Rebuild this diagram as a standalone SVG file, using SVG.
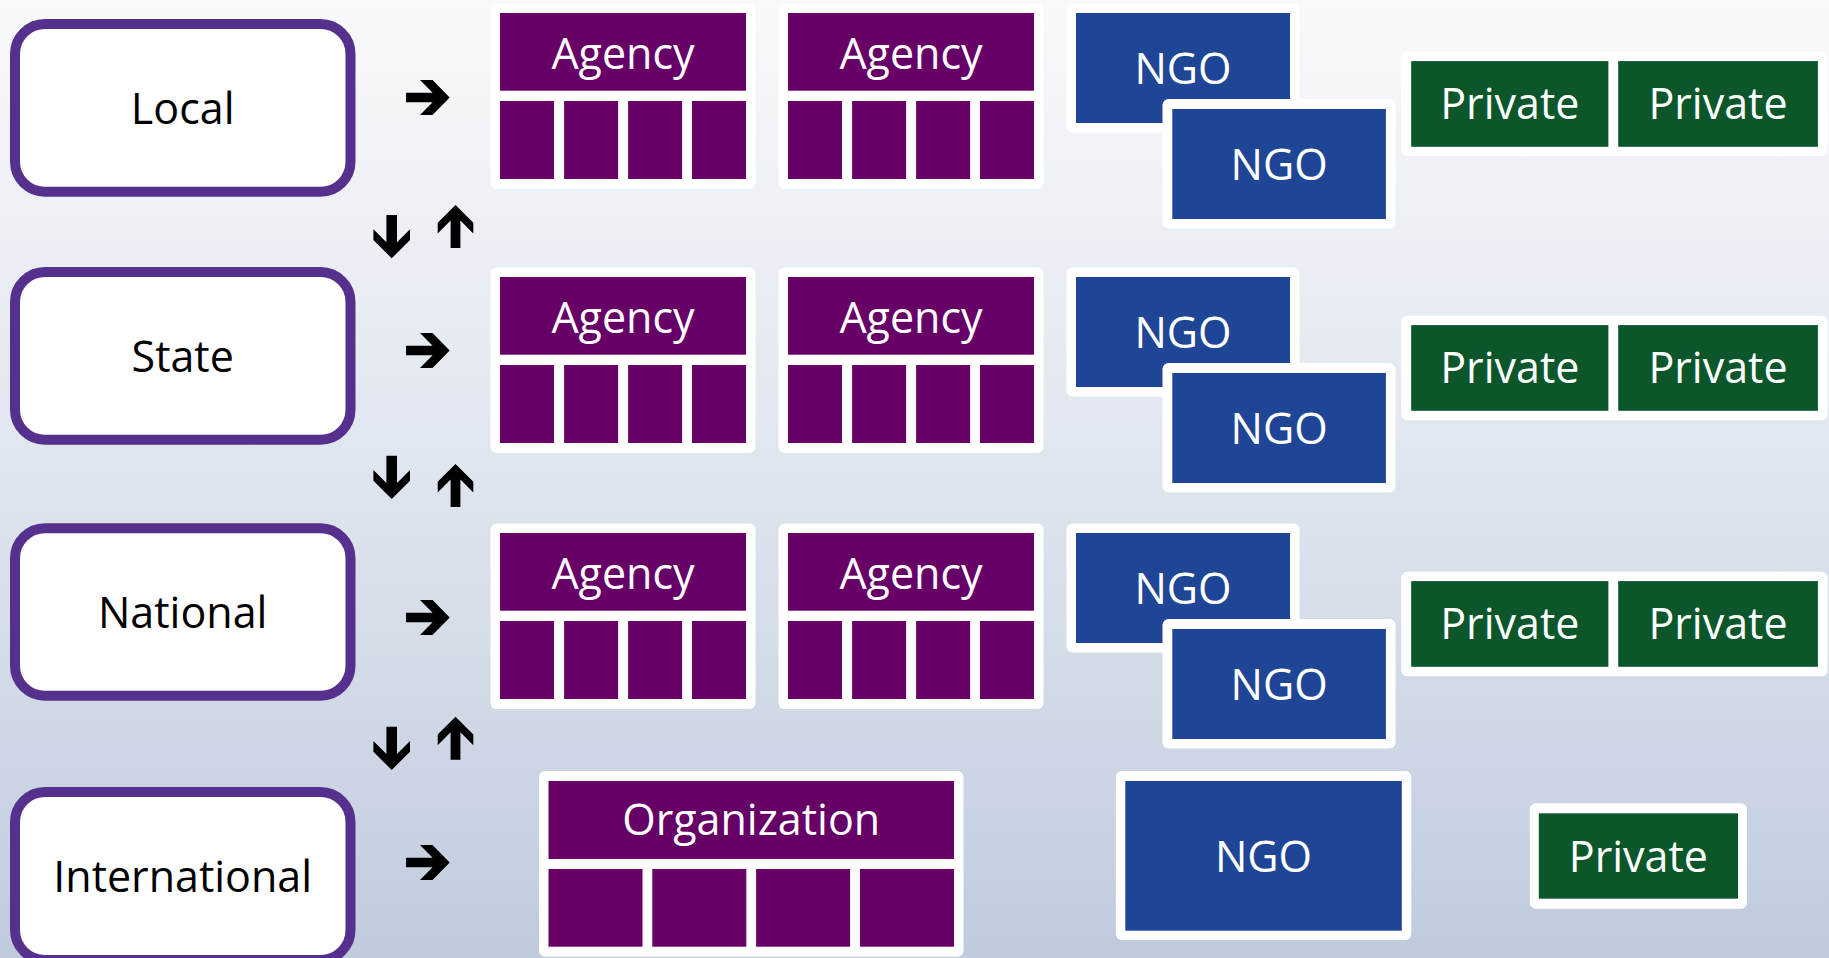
<svg xmlns="http://www.w3.org/2000/svg" xmlns:xlink="http://www.w3.org/1999/xlink" width="1829" height="958" viewBox="0 0 1829 958">
<style>
.level{fill:#ffffff;stroke:#55308d;stroke-width:10}
.lt{font-family:"Open Sans","Noto Sans","DejaVu Sans",sans-serif;font-size:43px;fill:#000000;text-anchor:middle}
.wt{font-family:"Open Sans","Noto Sans","DejaVu Sans",sans-serif;font-size:43px;fill:#ffffff;text-anchor:middle}
.card{fill:#ffffff}
.ag{fill:#660066}
.ngo{fill:#1f4696}
.pv{fill:#0b572b}
.arr{fill:#000000}
</style>
<defs>
<linearGradient id="bg" x1="0" y1="0" x2="0" y2="1">
<stop offset="0" stop-color="#f8f9fb"/>
<stop offset="0.5" stop-color="#dfe5ee"/>
<stop offset="1" stop-color="#bfcbdd"/>
</linearGradient>
<path id="ar" d="M0,-4.8 H26.6 L14,-17.5 H26.5 L43.7,0 L26.5,17.5 H14 L26.6,4.8 H0 Z"/>
<path id="ad" d="M-5.3,0 H5.3 V27.3 L18.3,14.3 V25 L0,43.3 L-18.3,25 V14.3 L-5.3,27.3 Z"/>
<path id="au" d="M0,0 L17.8,17.8 V28.5 L4.9,15.6 V43 H-4.9 V15.6 L-17.8,28.5 V17.8 Z"/>
<g id="agency">
<rect class="card" x="0" y="0" width="265" height="185.5" rx="6"/>
<rect class="ag" x="9.5" y="9.5" width="246" height="77.7"/>
<rect class="ag" x="9.5" y="97.5" width="54" height="78"/>
<rect class="ag" x="73.6" y="97.5" width="54" height="78"/>
<rect class="ag" x="137.6" y="97.5" width="54" height="78"/>
<rect class="ag" x="201.5" y="97.5" width="54" height="78"/>
<text class="wt" x="132.5" y="65.5">Agency</text>
</g>
<g id="ngopair">
<rect class="card" x="0" y="0" width="233" height="129" rx="6"/>
<rect class="ngo" x="9.5" y="9.5" width="214" height="110"/>
<text class="wt" x="116.5" y="80">NGO</text>
<rect class="card" x="96" y="95.5" width="233" height="129.5" rx="6"/>
<rect class="ngo" x="105.8" y="105.5" width="213.6" height="110"/>
<text class="wt" x="212.6" y="176.5">NGO</text>
</g>
<g id="privpair">
<rect class="card" x="0" y="0" width="426.5" height="104.6" rx="6"/>
<rect class="pv" x="10" y="9.4" width="197.2" height="85.7"/>
<rect class="pv" x="217" y="9.4" width="199.7" height="85.7"/>
<text class="wt" x="108.6" y="67.6">Private</text>
<text class="wt" x="316.8" y="67.6">Private</text>
</g>
</defs>
<rect x="0" y="0" width="1829" height="958" fill="url(#bg)"/>

<g id="level-local">
<rect class="level" x="15" y="24" width="335.5" height="167.7" rx="30"/>
<text class="lt" x="182.7" y="123.5">Local</text>
</g>
<g id="level-state">
<rect class="level" x="15" y="272" width="335.5" height="167.7" rx="30"/>
<text class="lt" x="182.7" y="371.5">State</text>
</g>
<g id="level-national">
<rect class="level" x="15" y="528.3" width="335.5" height="167.4" rx="30"/>
<text class="lt" x="182.7" y="627.5">National</text>
</g>
<g id="level-international">
<rect class="level" x="15" y="792" width="335.5" height="168" rx="30"/>
<text class="lt" x="182.7" y="891.5">International</text>
</g>

<g id="local-agency-1"><use xlink:href="#agency" x="490.5" y="3.5"/></g>
<g id="local-agency-2"><use xlink:href="#agency" x="778.5" y="3.5"/></g>
<g id="local-ngo"><use xlink:href="#ngopair" x="1066.5" y="3.5"/></g>
<g id="local-private"><use xlink:href="#privpair" x="1401.2" y="51.7"/></g>

<g id="state-agency-1"><use xlink:href="#agency" x="490.5" y="267.5"/></g>
<g id="state-agency-2"><use xlink:href="#agency" x="778.5" y="267.5"/></g>
<g id="state-ngo"><use xlink:href="#ngopair" x="1066.5" y="267.5"/></g>
<g id="state-private"><use xlink:href="#privpair" x="1401.2" y="315.7"/></g>

<g id="national-agency-1"><use xlink:href="#agency" x="490.5" y="523.5"/></g>
<g id="national-agency-2"><use xlink:href="#agency" x="778.5" y="523.5"/></g>
<g id="national-ngo"><use xlink:href="#ngopair" x="1066.5" y="523.5"/></g>
<g id="national-private"><use xlink:href="#privpair" x="1401.2" y="571.7"/></g>

<g id="international-organization">
<rect class="card" x="539" y="771" width="424.5" height="185.7" rx="6"/>
<rect class="ag" x="548.5" y="781" width="405.5" height="78"/>
<rect class="ag" x="548.5" y="869" width="94" height="77.7"/>
<rect class="ag" x="652.3" y="869" width="94" height="77.7"/>
<rect class="ag" x="756.1" y="869" width="94" height="77.7"/>
<rect class="ag" x="860" y="869" width="94" height="77.7"/>
<text class="wt" x="751.2" y="835">Organization</text>
</g>
<g id="international-ngo">
<rect class="card" x="1115.8" y="771" width="295.5" height="169" rx="6"/>
<rect class="ngo" x="1125.3" y="781" width="276.5" height="149.7"/>
<text class="wt" x="1263.5" y="871.5">NGO</text>
</g>
<g id="international-private">
<rect class="card" x="1529.8" y="803.3" width="217.2" height="105.4" rx="6"/>
<rect class="pv" x="1538.8" y="813.3" width="199.2" height="85.4"/>
<text class="wt" x="1638.4" y="871.5">Private</text>
</g>

<g id="connectors" class="arr">
<use xlink:href="#ar" x="406" y="97.5"/>
<use xlink:href="#ar" x="406" y="350.5"/>
<use xlink:href="#ar" x="406" y="617.5"/>
<use xlink:href="#ar" x="406" y="862.5"/>
<use xlink:href="#ad" x="391.7" y="215"/>
<use xlink:href="#au" x="455.5" y="205"/>
<use xlink:href="#ad" x="391.7" y="455.7"/>
<use xlink:href="#au" x="455.5" y="464"/>
<use xlink:href="#ad" x="391.7" y="726.7"/>
<use xlink:href="#au" x="455.5" y="716.7"/>
</g>
</svg>
